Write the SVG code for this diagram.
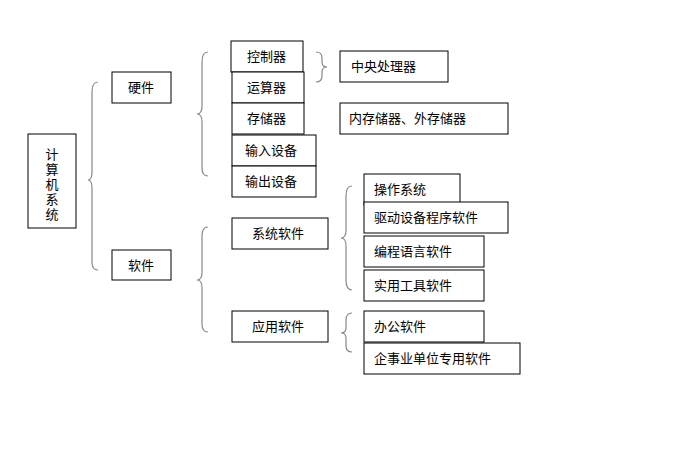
<svg xmlns="http://www.w3.org/2000/svg" width="682" height="469" viewBox="0 0 682 469">
<style>
rect{fill:#fff;stroke:#000;stroke-width:1}
text{font-family:"Noto Sans CJK SC",sans-serif;font-size:13px;fill:#000}
.b{fill:none;stroke:#888;stroke-width:1.2}
</style>
<rect x="0" y="0" width="682" height="469" style="stroke:none"/>
<g id="connectors">
<path class="b" d="M98,82 Q92,82 92,92 L92,172 Q92,180 88,180 Q92,180 92,188 L92,262 Q92,270 98,270"/>
<path class="b" d="M208,52 Q202,52 202,62 L202,106 Q202,114 197,114 Q202,114 202,122 L202,168 Q202,176 208,176"/>
<path class="b" d="M316,52 Q322,52 322,58 L322,62 Q322,67 327,67 Q322,67 322,72 L322,76 Q322,82 316,82"/>
<path class="b" d="M208,227 Q202,227 202,236 L202,272 Q202,280 197,280 Q202,280 202,288 L202,324 Q202,332 208,332"/>
<path class="b" d="M352,186 Q346,186 346,196 L346,230 Q346,238 341,238 Q346,238 346,246 L346,280 Q346,290 352,290"/>
<path class="b" d="M352,313 Q346,313 346,320 L346,328 Q346,333 341,333 Q346,333 346,338 L346,346 Q346,352 352,352"/>
</g>
<g id="n-root"><rect x="28" y="134" width="48" height="94"/>
<text x="52" y="148" writing-mode="tb" letter-spacing="2">计算机系统</text></g>
<g id="n-hw"><rect x="112" y="72" width="59" height="31"/><text x="128" y="92">硬件</text></g>
<g id="n-sw"><rect x="112" y="250" width="59" height="30"/><text x="128" y="270">软件</text></g>
<g id="n-ctl"><rect x="231" y="41" width="72" height="31"/><text x="247" y="61">控制器</text></g>
<g id="n-alu"><rect x="232" y="72" width="72" height="31"/><text x="247" y="92">运算器</text></g>
<g id="n-mem"><rect x="232" y="103" width="72" height="31"/><text x="247" y="123">存储器</text></g>
<g id="n-in"><rect x="232" y="135" width="84" height="31"/><text x="245" y="155">输入设备</text></g>
<g id="n-out"><rect x="232" y="166" width="84" height="31"/><text x="245" y="186">输出设备</text></g>
<g id="n-cpu"><rect x="340" y="51" width="108" height="31"/><text x="351" y="71">中央处理器</text></g>
<g id="n-storage"><rect x="340" y="103" width="168" height="31"/><text x="349" y="123">内存储器、外存储器</text></g>
<g id="n-sys"><rect x="232" y="218" width="96" height="31"/><text x="252" y="238">系统软件</text></g>
<g id="n-app"><rect x="232" y="311" width="96" height="31"/><text x="252" y="331">应用软件</text></g>
<g id="n-os"><rect x="364" y="174" width="96" height="31"/><text x="374" y="194">操作系统</text></g>
<g id="n-drv"><rect x="364" y="202" width="144" height="31"/><text x="374" y="222">驱动设备程序软件</text></g>
<g id="n-prog"><rect x="364" y="236" width="120" height="31"/><text x="374" y="256">编程语言软件</text></g>
<g id="n-util"><rect x="364" y="270" width="120" height="31"/><text x="374" y="290">实用工具软件</text></g>
<g id="n-office"><rect x="364" y="311" width="120" height="31"/><text x="374" y="331">办公软件</text></g>
<g id="n-ent"><rect x="364" y="343" width="156" height="31"/><text x="374" y="363">企事业单位专用软件</text></g>
</svg>
